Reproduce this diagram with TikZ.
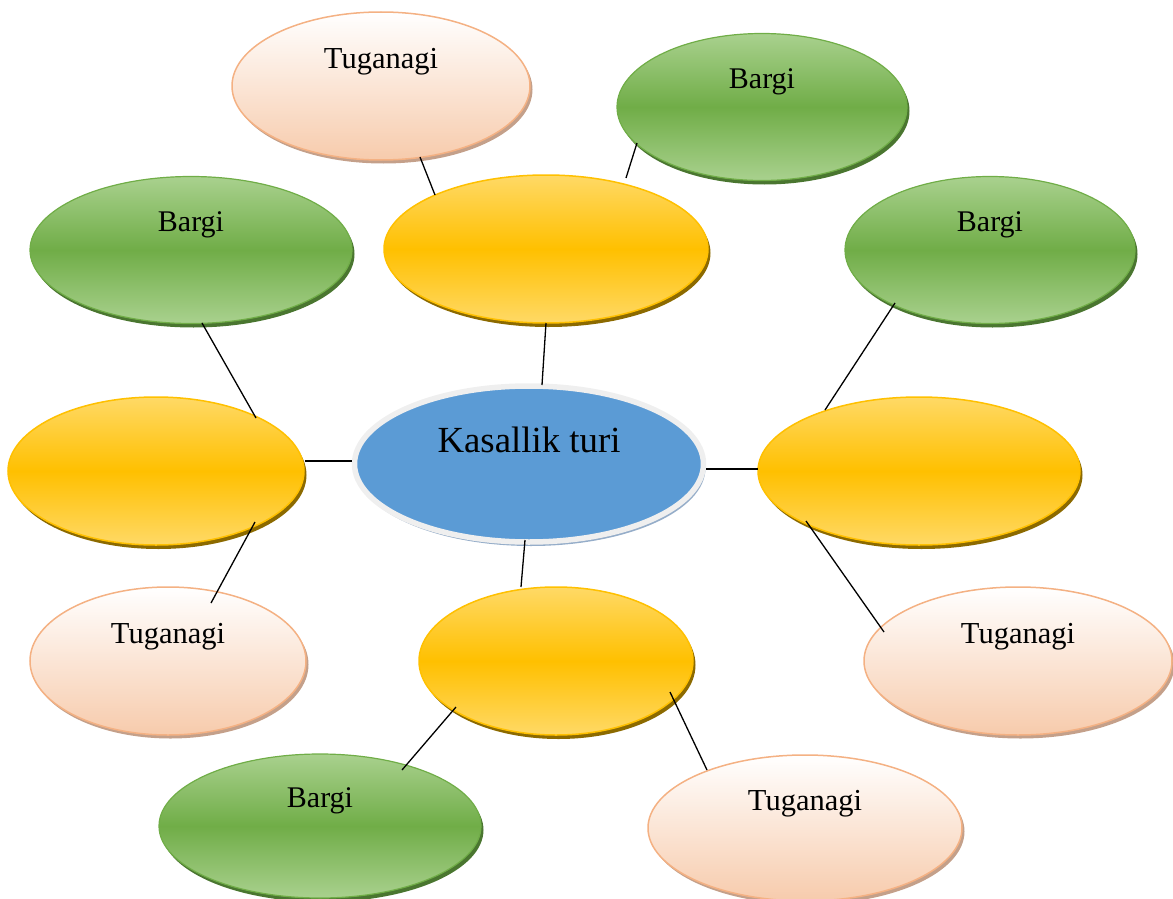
\documentclass[tikz,border=0pt]{standalone}
\usepackage{fontspec}
\setmainfont{Liberation Serif}
\usetikzlibrary{shapes.geometric,shadows,calc}
\definecolor{grnMid}{HTML}{70AD47}
\definecolor{grnLt}{HTML}{A9D18E}
\definecolor{grnSh}{HTML}{4A7630}
\definecolor{ylwMid}{HTML}{FFC000}
\definecolor{ylwLt}{HTML}{FFD966}
\definecolor{ylwSh}{HTML}{8C6A00}
\definecolor{pchLt}{HTML}{FFFFFF}
\definecolor{pchDk}{HTML}{F7CBAC}
\definecolor{pchLine}{HTML}{F4B183}
\definecolor{pchSh}{HTML}{C4A08A}
\definecolor{bluFill}{HTML}{5B9BD5}
\definecolor{ringCol}{HTML}{EFEFEF}
\definecolor{bluSh}{HTML}{95ADC9}
\begin{document}
\begin{tikzpicture}[x=1pt,y=-1pt,
  oval/.style={ellipse, inner sep=0pt, outer sep=0pt},
  greenoval/.style={oval, draw=grnMid, line width=1.2pt,
    top color=grnLt, bottom color=grnLt, middle color=grnMid,
    general shadow={fill=grnSh, shadow xshift=2.5pt, shadow yshift=-4pt}},
  yellowoval/.style={oval, draw=ylwMid, line width=1.5pt,
    top color=ylwLt, bottom color=ylwLt, middle color=ylwMid,
    general shadow={fill=ylwSh, shadow xshift=2.5pt, shadow yshift=-4pt}},
  peachoval/.style={oval, draw=pchLine, line width=1.5pt,
    top color=pchLt, bottom color=pchDk,
    general shadow={fill=pchSh, shadow xshift=2.5pt, shadow yshift=-3.5pt}},
  centeroval/.style={oval, draw=ringCol, line width=5.5pt, fill=bluFill,
    general shadow={fill=bluSh, shadow xshift=2pt, shadow yshift=-4pt}},
  lbl/.style={font=\fontsize{30}{35}\selectfont, yshift=25pt},
  tlbl/.style={font=\fontsize{30.5}{35}\selectfont, yshift=24pt},
  biglbl/.style={font=\fontsize{36.8}{42}\selectfont, yshift=24pt},
  link/.style={draw=black, line width=1.3pt}
]
\useasboundingbox (0,0) rectangle (1173,899);

% outer ring nodes
\node[peachoval, minimum width=298pt, minimum height=148pt, label={[tlbl]center:Tuganagi}] (tt) at (381,86) {};
\node[greenoval, minimum width=290pt, minimum height=147pt, label={[lbl]center:Bargi}] (br1) at (762,107) {};
\node[greenoval, minimum width=322pt, minimum height=147pt, label={[lbl]center:Bargi}] (bl) at (191,250) {};
\node[greenoval, minimum width=290pt, minimum height=147pt, label={[lbl]center:Bargi}] (br2) at (990,250) {};
\node[peachoval, minimum width=276pt, minimum height=148pt, label={[tlbl]center:Tuganagi}] (tl) at (168,661) {};
\node[peachoval, minimum width=308pt, minimum height=148pt, label={[tlbl]center:Tuganagi}] (trt) at (1018,661) {};
\node[greenoval, minimum width=322pt, minimum height=144pt, label={[lbl]center:Bargi}] (bb) at (320,826) {};
\node[peachoval, minimum width=314pt, minimum height=146pt, label={[tlbl]center:Tuganagi}] (tb) at (805,828) {};

% yellow nodes
\node[yellowoval, minimum width=324pt, minimum height=148pt] (yt) at (546,249) {};
\node[yellowoval, minimum width=296pt, minimum height=148pt] (yl) at (156,471) {};
\node[yellowoval, minimum width=322pt, minimum height=148pt] (yr) at (919,471) {};
\node[yellowoval, minimum width=274pt, minimum height=148pt] (yb) at (556,661) {};

% center
\node[centeroval, minimum width=349pt, minimum height=156pt, label={[biglbl]center:Kasallik turi}] (c) at (529,464) {};

% connectors
\draw[link] ($(tt)+(39,71)$) -- ($(yt)+(-111,-54)$);
\draw[link] ($(br1)+(-125,36)$) -- ($(yt)+(80,-71)$);
\draw[link] ($(yt)+(0,74)$) -- ($(c)+(13,-79)$);
\draw[link] ($(bl)+(11,73)$) -- ($(yl)+(100,-53)$);
\draw[link] ($(yl)+(149,-10)$) -- ($(c)+(-177,-3)$);
\draw[link] ($(yl)+(99,51)$) -- ($(tl)+(43,-58)$);
\draw[link] ($(br2)+(-95,53)$) -- ($(yr)+(-94,-61)$);
\draw[link] ($(c)+(177,5)$) -- ($(yr)+(-161,-2)$);
\draw[link] ($(yr)+(-113,50)$) -- ($(trt)+(-134,-29)$);
\draw[link] ($(c)+(-4,76)$) -- ($(yb)+(-35,-74)$);
\draw[link] ($(yb)+(-100,46)$) -- ($(bb)+(82,-56)$);
\draw[link] ($(yb)+(114,31)$) -- ($(tb)+(-98,-58)$);
\end{tikzpicture}
\end{document}
